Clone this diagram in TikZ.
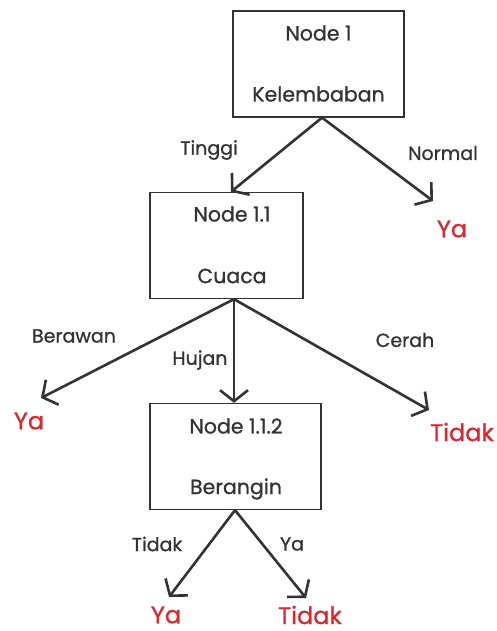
\documentclass[tikz,border=0pt]{standalone}
\usepackage{fontspec}
\setmainfont{Poppins}[FakeBold=0.9]
\usetikzlibrary{arrows.meta}
\definecolor{ink}{HTML}{333333}
\definecolor{leafred}{HTML}{D9282F}
\begin{document}
\begin{tikzpicture}[x=1pt,y=-1pt,
  box/.style={draw=ink,line width=1.3pt,minimum width=#1,minimum height=106pt,inner sep=0pt},
  boxtext/.style={text=ink,font=\fontsize{20.5}{24}\selectfont},
  edgelabel/.style={text=ink,font=\fontsize{19}{22}\selectfont},
  leaf/.style={text=leafred,inner sep=0pt,font=\fontsize{24}{28}\selectfont},
  branch/.style={draw=ink,line width=2.6pt,-{Straight Barb[length=11pt,width=28pt,line width=2.6pt]}}]
\useasboundingbox (0,0) rectangle (496,631);

% decision nodes
\node[box=171pt] (n1) at (318.5,64) {};
\node[boxtext] (n1a) at (318.5,33) {Node 1};
\node[boxtext] (n1b) at (318.5,94) {Kelembaban};

\node[box=153pt] (n11) at (226.5,245.5) {};
\node[boxtext] (n11a) at (232,214) {Node 1.1};
\node[boxtext] (n11b) at (232,276) {Cuaca};

\node[box=171pt] (n112) at (235.5,456.5) {};
\node[boxtext] (n112a) at (236,426) {Node 1.1.2};
\node[boxtext] (n112b) at (236,489) {Berangin};

% leaves
\node[leaf] (l1) at (452,229) {Ya};
\node[leaf] (l2) at (29,421) {Ya};
\node[leaf] (l3) at (462,432) {Tidak};
\node[leaf] (l4) at (166,615) {Ya};
\node[leaf] (l5) at (310,615) {Tidak};

% arrow tips above the leaves
\coordinate (t1) at (433,201);
\coordinate (t2) at (41,398);
\coordinate (t3) at (429,410);
\coordinate (t4) at (169,597);
\coordinate (t5) at (306,598);

% branches
\draw[branch] (n1.south -| 322,0) -- (n11.north -| 231,0);
\draw[branch] (n1.south -| 322,0) -- (t1);
\draw[branch] (n11.south -| 234,0) -- (t2);
\draw[branch] (n11.south -| 234,0) -- (n112.north -| 234,0);
\draw[branch] (n11.south -| 234,0) -- (t3);
\draw[branch] (n112.south -| 235,0) -- (t4);
\draw[branch] (n112.south -| 235,0) -- (t5);

% branch labels
\node[edgelabel] (e1) at (209,150) {Tinggi};
\node[edgelabel] (e2) at (443,153) {Normal};
\node[edgelabel] (e3) at (74,336) {Berawan};
\node[edgelabel] (e4) at (200,360) {Hujan};
\node[edgelabel] (e5) at (405,340) {Cerah};
\node[edgelabel] (e6) at (157,544) {Tidak};
\node[edgelabel] (e7) at (292,544) {Ya};
\end{tikzpicture}
\end{document}
